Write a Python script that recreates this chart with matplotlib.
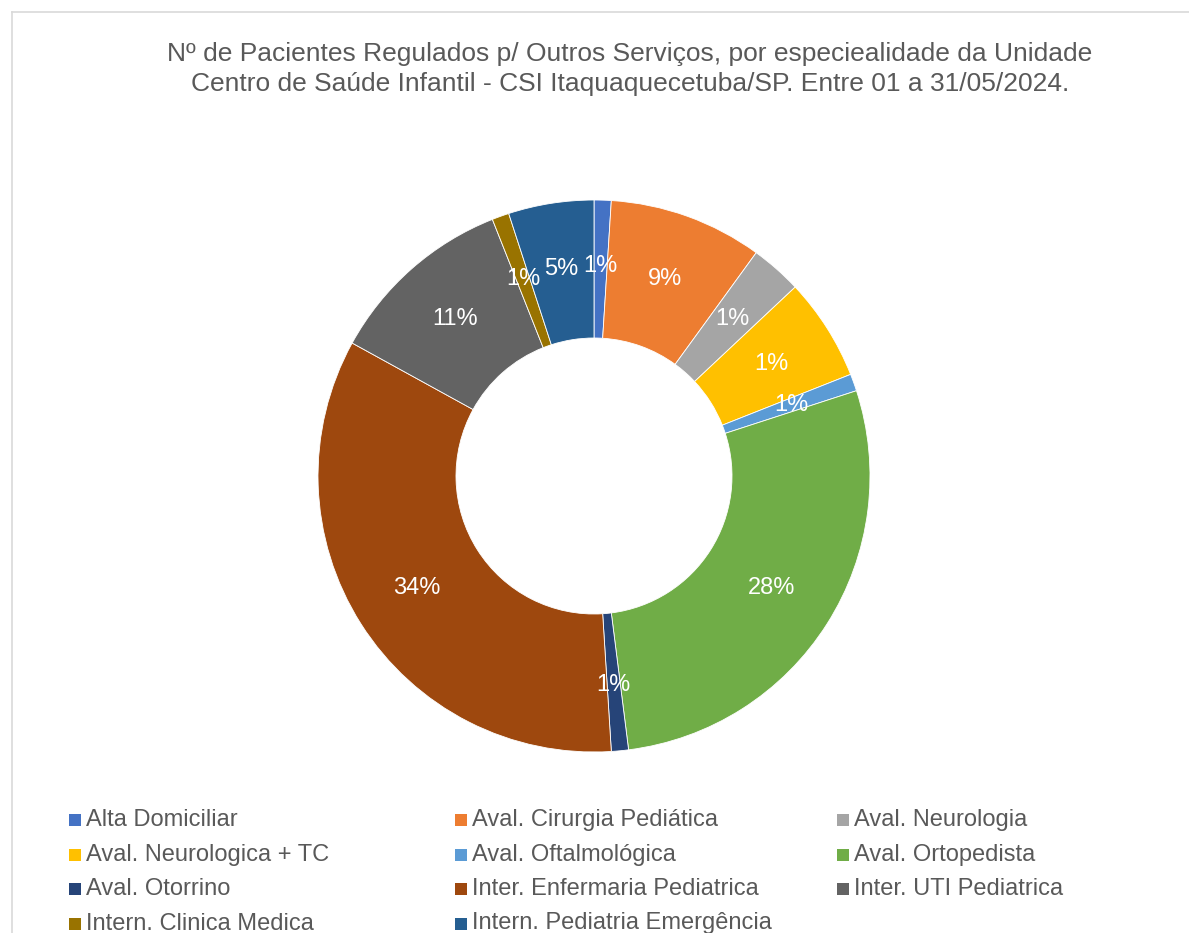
import matplotlib.pyplot as plt
from matplotlib.lines import Line2D
from matplotlib.patches import Rectangle
import numpy as np

plt.rcParams['font.family'] = ['Liberation Sans', 'DejaVu Sans']

categorias = ['Alta Domiciliar', 'Aval. Cirurgia Pediática', 'Aval. Neurologia',
              'Aval. Neurologica + TC', 'Aval. Oftalmológica', 'Aval. Ortopedista',
              'Aval. Otorrino', 'Inter. Enfermaria Pediatrica', 'Inter. UTI Pediatrica',
              'Intern. Clinica Medica', 'Intern. Pediatria Emergência']
pacientes = [1, 9, 3, 6, 1, 28, 1, 34, 11, 1, 5]
rotulos = ['1%', '9%', '1%', '1%', '1%', '28%', '1%', '34%', '11%', '1%', '5%']
cores = ['#4472C4', '#ED7D31', '#A5A5A5', '#FFC000', '#5B9BD5', '#70AD47',
         '#264478', '#9E480E', '#636363', '#997300', '#255E91']

W, H = 1189, 933
fig = plt.figure(figsize=(W / 100, H / 100), dpi=100)

# moldura do grafico (cortada na direita/embaixo)
fig.add_artist(Line2D([12 / W, 1], [1 - 12 / H, 1 - 12 / H], color='#d9d9d9', lw=1.2))
fig.add_artist(Line2D([12 / W, 12 / W], [0, 1 - 12 / H], color='#d9d9d9', lw=1.2))

fig.text(630 / W, 1 - 69 / H,
         'Nº de Pacientes Regulados p/ Outros Serviços, por especiealidade da Unidade\n'
         'Centro de Saúde Infantil - CSI Itaquaquecetuba/SP. Entre 01 a 31/05/2024.',
         ha='center', va='center', fontsize=19, color='#595959', linespacing=1.35)

cx, cy, r = 594, 476, 276
ax = fig.add_axes([(cx - r) / W, (H - cy - r) / H, 2 * r / W, 2 * r / H])
wedges, _ = ax.pie(pacientes, colors=cores, startangle=90, counterclock=False,
                   radius=1, wedgeprops=dict(width=0.5, edgecolor='white', linewidth=0.6))
ax.set_xlim(-1, 1)
ax.set_ylim(-1, 1)
ax.axis('off')

for w, txt in zip(wedges, rotulos):
    ang = np.deg2rad((w.theta1 + w.theta2) / 2)
    ax.text(0.76 * np.cos(ang), 0.76 * np.sin(ang), txt, ha='center', va='center',
            color='white', fontsize=17)

# legenda em 3 colunas, preenchida por linha
col_x = [69, 455, 837]
for i, (nome, c) in enumerate(zip(categorias, cores)):
    lin, col = divmod(i, 3)
    x = col_x[col]
    y = 820 + lin * 34.5
    fig.add_artist(Rectangle((x / W, 1 - (y + 6) / H), 12 / W, 12 / H,
                             facecolor=c, edgecolor='none', transform=fig.transFigure))
    fig.text((x + 17) / W, 1 - y / H, nome, ha='left', va='center',
             fontsize=17, color='#595959')

fig.savefig('out.png', dpi=100)
